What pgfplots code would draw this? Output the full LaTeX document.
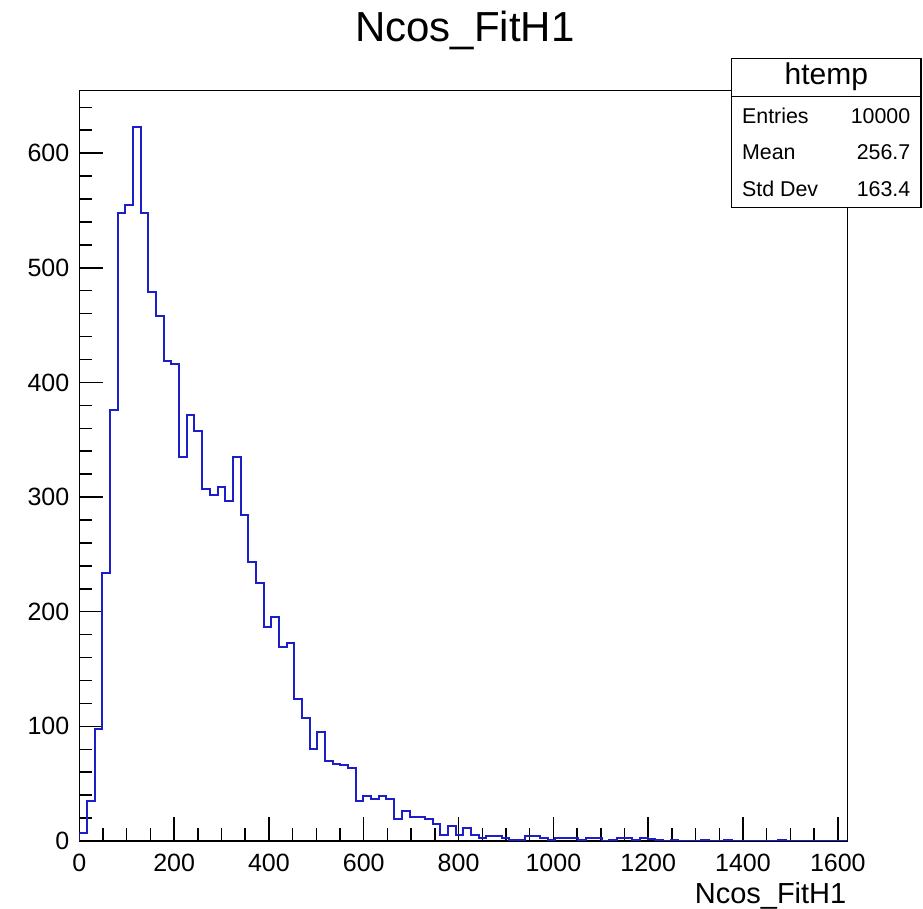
\documentclass[border=0pt]{standalone}
\usepackage{fontspec}
\setmainfont{Liberation Sans}
\usepackage{pgfplots}
\usepackage{pgfplotstable}
\pgfplotsset{compat=1.18}
\definecolor{hblue}{RGB}{30,30,200}

\pgfplotstableread{
x y
0 0
0 7
16.2 35
32.4 98
48.6 234
64.8 376
81 548
97.2 555
113.4 623
129.6 548
145.8 479
162 458
178.2 419
194.4 416
210.6 335
226.8 372
243 358
259.2 307
275.4 302
291.6 309
307.8 297
324 335
340.2 284
356.4 243
372.6 225
388.8 187
405 195
421.2 169
437.4 173
453.6 124
469.8 107
486 80
502.2 95
518.4 70
534.6 67
550.8 66
567 64
583.2 35
599.4 39
615.6 37
631.8 39
648 37
664.2 19
680.4 26
696.6 21
712.8 21
729 19
745.2 15
761.4 5
777.6 13
793.8 5
810 11
826.2 5
842.4 3
858.6 4
874.8 4
891 3
907.2 1
923.4 1
939.6 4
955.8 4
972 3
988.2 1
1004.4 3
1020.6 3
1036.8 3
1053 1
1069.2 3
1085.4 3
1101.6 0
1117.8 1
1134 3
1150.2 3
1166.4 1
1182.6 3
1198.8 2
1215 1
1231.2 0
1247.4 1
1263.6 0
1279.8 0
1296 0
1312.2 1
1328.4 0
1344.6 0
1360.8 1
1377 0
1393.2 0
1409.4 0
1425.6 0
1441.8 0
1458 0
1474.2 1
1490.4 0
1506.6 0
1522.8 0
1539 0
1555.2 0
1571.4 0
1587.6 0
1603.8 0
1620 0
}\histdata

\begin{document}
\begin{tikzpicture}
\begin{axis}[
  at={(0,0)}, anchor=south west,
  scale only axis, width=384pt, height=375.15pt,
  xmin=0, xmax=1620, ymin=0, ymax=654.5,
  axis line style={line width=0.75pt, black},
  xtick={0,200,...,1600}, ytick={0,100,...,600},
  minor xtick={50,100,...,1600},
  minor ytick={20,40,...,640},
  tick align=inside, xtick pos=bottom, ytick pos=left,
  major tick length=12pt, minor tick length=6.3pt,
  every tick/.style={black, line width=0.75pt},
  tick label style={font=\fontsize{12.5}{14}\selectfont},
  /pgf/number format/assume math mode=true,
  /pgf/number format/1000 sep={},
  scaled ticks=false,
  xticklabel style={yshift=-2.8pt},
  yticklabel style={xshift=-1.5pt},
]
\addplot[const plot, color=hblue, line width=1pt, mark=none] table[x=x, y=y] {\histdata};
\end{axis}

\node[anchor=base, inner sep=0pt, font=\fontsize{21}{25}\selectfont] at (192.85pt,399.65pt) {Ncos\_FitH1};
\node[anchor=base east, inner sep=0pt, font=\fontsize{14.5}{17}\selectfont] at (383.7pt,-31.15pt) {Ncos\_FitH1};

\filldraw[fill=white, draw=black, line width=0.75pt] (326.2pt,316.85pt) rectangle (420.85pt,391.35pt);
\draw[line width=0.75pt] (326.2pt,372.15pt) -- (420.85pt,372.15pt);
\node[anchor=base, inner sep=0pt, font=\fontsize{15}{18}\selectfont] at (373.5pt,378pt) {htemp};
\node[anchor=base west, inner sep=0pt, font=\fontsize{10.7}{13}\selectfont] at (331.2pt,358.85pt) {Entries};
\node[anchor=base west, inner sep=0pt, font=\fontsize{10.7}{13}\selectfont] at (331.2pt,340.5pt) {Mean};
\node[anchor=base west, inner sep=0pt, font=\fontsize{10.7}{13}\selectfont] at (331.2pt,322.15pt) {Std Dev};
\node[anchor=base east, inner sep=0pt, font=\fontsize{10.7}{13}\selectfont] at (415.7pt,358.85pt) {10000};
\node[anchor=base east, inner sep=0pt, font=\fontsize{10.7}{13}\selectfont] at (415.7pt,340.5pt) {256.7};
\node[anchor=base east, inner sep=0pt, font=\fontsize{10.7}{13}\selectfont] at (415.7pt,322.15pt) {163.4};

\pgfresetboundingbox
\path (-39.65pt,-34pt) rectangle (421.85pt,420.5pt);
\end{tikzpicture}
\end{document}
